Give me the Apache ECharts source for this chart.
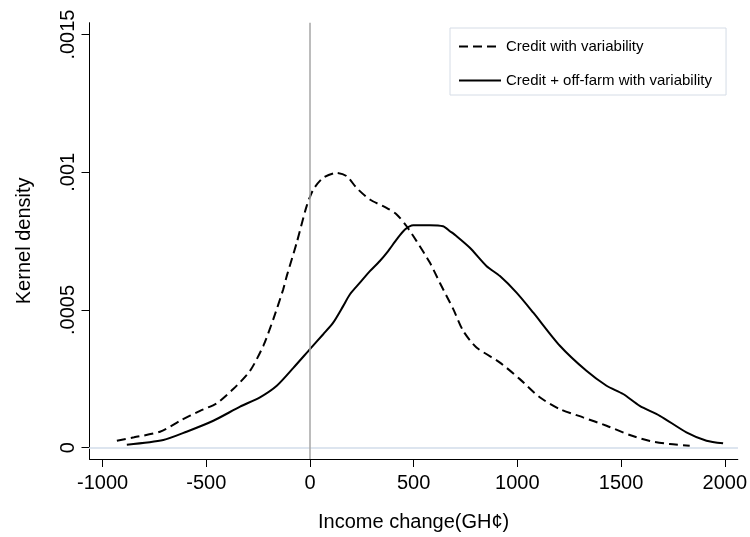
<!DOCTYPE html>
<html>
<head>
<meta charset="utf-8">
<script src="https://cdn.jsdelivr.net/npm/echarts@6/dist/echarts.min.js"></script>
<style>html,body{margin:0;padding:0;background:#fff}#c{width:750px;height:537px}</style>
</head>
<body>
<div id="c"></div>
<script>
// Tick labels
const xTicks = [-1000, -500, 0, 500, 1000, 1500, 2000];
const yTicks = [0, 0.0005, 0.001, 0.0015];
const gridValues = [0, 0.0005, 0.001];

// Series: Credit with variability (dashed)
const creditX = [-931, -848, -723, -626, -530, -450, -370, -289, -225, -177, -129, -112, -64, -16, 16, 64, 129, 177, 225, 289, 369, 418, 466, 514, 578, 626, 691, 739, 803, 916, 1012, 1108, 1205, 1317, 1430, 1542, 1639, 1735, 1831];
const creditY = [0.0000254, 0.0000377, 0.000058, 0.0000978, 0.000134, 0.000161, 0.000213, 0.000279, 0.000370, 0.000466, 0.000575, 0.000623, 0.000744, 0.000877, 0.000937, 0.000980, 0.000998, 0.000986, 0.000943, 0.000901, 0.000871, 0.000847, 0.000804, 0.000750, 0.000672, 0.000599, 0.000503, 0.000424, 0.000364, 0.000309, 0.000249, 0.000183, 0.000140, 0.000110, 0.0000797, 0.000046, 0.0000243, 0.0000134, 0.0000072];

// Series: Credit + off-farm with variability (solid)
const offfarmX = [-883, -707, -595, -466, -337, -241, -160, -80, 0, 64, 112, 160, 193, 241, 289, 337, 377, 418, 458, 498, 578, 642, 675, 707, 771, 852, 916, 996, 1076, 1205, 1333, 1430, 1510, 1590, 1687, 1815, 1912, 1992];
const offfarmY = [0.0000109, 0.0000279, 0.000058, 0.0000978, 0.000149, 0.000183, 0.000225, 0.000290, 0.000358, 0.000412, 0.000454, 0.000514, 0.000557, 0.000599, 0.000641, 0.000678, 0.000714, 0.000756, 0.000792, 0.000808, 0.000808, 0.000804, 0.000786, 0.000768, 0.000726, 0.000659, 0.000623, 0.000563, 0.000491, 0.000370, 0.000279, 0.000225, 0.000195, 0.000152, 0.000116, 0.0000558, 0.0000254, 0.0000159];

const seriesNames = ['Credit with variability', 'Credit + off-farm with variability'];

const zip = (xs, ys) => xs.map((x, i) => [x, ys[i]]);
const FONT = 'Arial, "Liberation Sans", sans-serif';

function fmtY(v) {
  if (v === 0) return '0';
  return String(v).replace(/^0/, '');
}

const chart = echarts.init(document.getElementById('c'), null, {renderer: 'canvas'});
chart.setOption({
  backgroundColor: '#ffffff',
  animation: false,
  grid: {left: 89.5, right: 12, top: 22.7, bottom: 77, containLabel: false},
  legend: {
    show: true,
    data: seriesNames,
    orient: 'vertical',
    left: 450,
    top: 28,
    itemWidth: 42,
    itemHeight: 16,
    itemGap: 19,
    padding: [11, 14, 7, 8],
    borderColor: '#d5dce6',
    borderWidth: 1,
    backgroundColor: '#ffffff',
    itemStyle: {opacity: 0},
    textStyle: {fontFamily: FONT, fontSize: 15, color: '#000'}
  },
  xAxis: {
    type: 'value',
    min: -1063,
    max: 2063,
    name: 'Income change(GH\u00a2)',
    nameLocation: 'middle',
    nameGap: 53,
    nameTextStyle: {fontFamily: FONT, fontSize: 20, color: '#000'},
    axisLine: {show: true, onZero: false, lineStyle: {color: '#000', width: 1}},
    axisTick: {show: true, length: 8, inside: false, customValues: xTicks, lineStyle: {color: '#000'}},
    axisLabel: {customValues: xTicks, margin: 14, fontFamily: FONT, fontSize: 20, color: '#000', formatter: v => String(v)},
    splitLine: {show: false}
  },
  yAxis: {
    type: 'value',
    min: -0.000041,
    max: 0.001543,
    name: 'Kernel density',
    nameLocation: 'middle',
    nameGap: 55,
    nameTextStyle: {fontFamily: FONT, fontSize: 20, color: '#000'},
    axisLine: {show: true, onZero: false, lineStyle: {color: '#000', width: 1}},
    axisTick: {show: true, length: 8, inside: false, customValues: yTicks, lineStyle: {color: '#000'}},
    axisLabel: {customValues: yTicks, rotate: 90, margin: 11, fontFamily: FONT, fontSize: 20, color: '#000', formatter: fmtY},
    splitLine: {show: false}
  },
  series: [
    {
      name: '__grid',
      type: 'line',
      data: [],
      silent: true,
      markLine: {
        silent: true,
        symbol: 'none',
        label: {show: false},
        animation: false,
        data: gridValues.map(v => ({yAxis: v, lineStyle: {color: '#dde4ef', width: 1.5, type: 'solid'}}))
          .concat([{xAxis: 0, lineStyle: {color: '#a6a6a6', width: 1.5, type: 'solid'}}])
      }
    },
    {
      name: seriesNames[0],
      type: 'line',
      data: zip(creditX, creditY),
      smooth: 0.25,
      symbol: 'none',
      showSymbol: false,
      color: '#000',
      lineStyle: {color: '#000', width: 2, type: [9, 5]},
      z: 3
    },
    {
      name: seriesNames[1],
      type: 'line',
      data: zip(offfarmX, offfarmY),
      smooth: 0.25,
      symbol: 'none',
      showSymbol: false,
      color: '#000',
      lineStyle: {color: '#000', width: 2, type: 'solid'},
      z: 3
    }
  ]
});
</script>
</body>
</html>
